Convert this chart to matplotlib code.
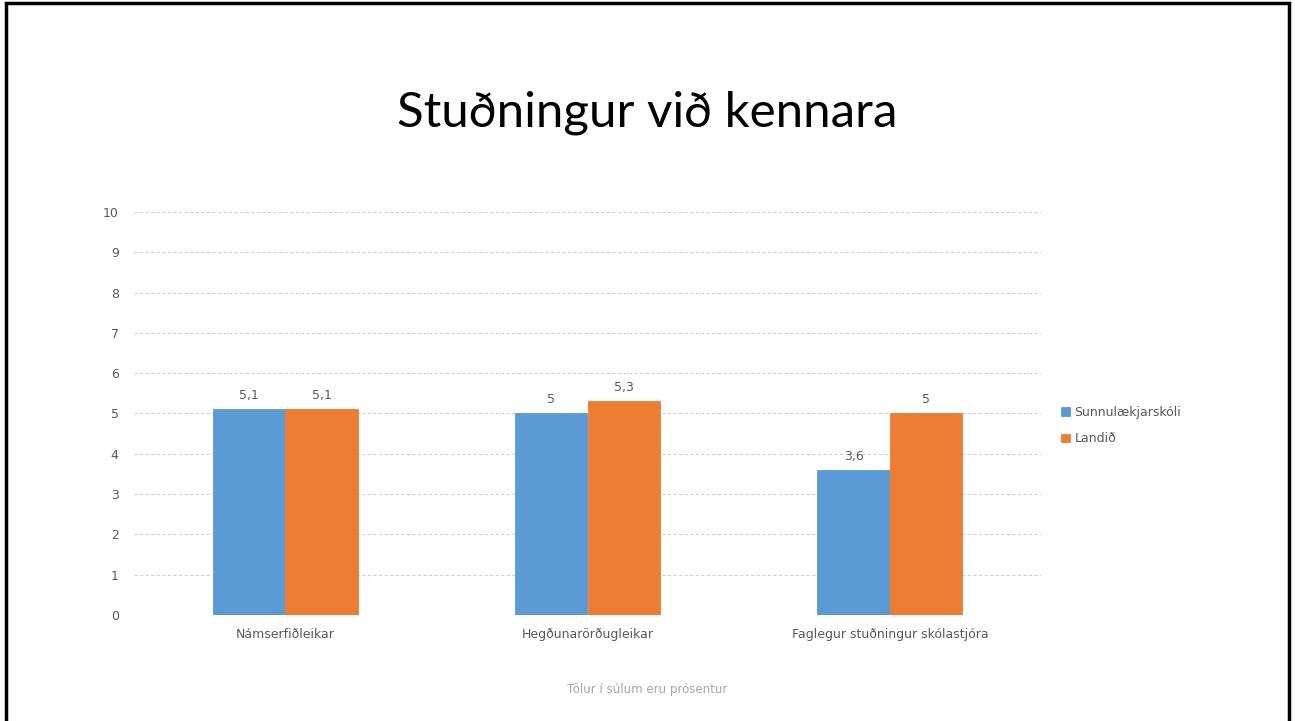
import matplotlib
matplotlib.use("Agg")
import matplotlib.pyplot as plt
from matplotlib.patches import Rectangle
import numpy as np

plt.rcParams['font.family'] = ['DejaVu Sans']

categories = ['Námserfiðleikar', 'Hegðunarörðugleikar', 'Faglegur stuðningur skólastjóra']
series_names = ['Sunnulækjarskóli', 'Landið']
school = [5.1, 5.0, 3.6]
country = [5.1, 5.3, 5.0]
colors = ['#5b9bd5', '#ed7d31']
grey = '#595959'


def fmt(v):
    s = ('%.1f' % v).rstrip('0').rstrip('.')
    return s.replace('.', ',')


fig = plt.figure(figsize=(12.95, 7.21), dpi=100)
ax = fig.add_axes([134 / 1295, 0.147, 907 / 1295, 0.559])

x = np.arange(len(categories))
w = 0.24
for i, (vals, name) in enumerate(zip([school, country], series_names)):
    pos = x + (i - 0.5) * w
    # thin edge in the fill colour so neighbouring bars touch without a gap
    bars = ax.bar(pos, vals, width=w, color=colors[i], edgecolor=colors[i],
                  linewidth=0.6, label=name, zorder=3)
    for b, v in zip(bars, vals):
        ax.text(b.get_x() + b.get_width() / 2, v + 0.18, fmt(v),
                ha='center', va='bottom', fontsize=9, color=grey)

ax.set_xlim(-0.5, len(categories) - 0.5)
ax.set_ylim(0, 10)
ax.set_yticks(range(0, 11))
ax.set_xticks(x)
ax.set_xticklabels(categories)
ax.tick_params(axis='both', length=0, labelsize=9, colors=grey)
ax.tick_params(axis='x', pad=9)
ax.tick_params(axis='y', pad=11)
ax.grid(axis='y', color='#d0d0d0', linestyle=(0, (3, 2)), linewidth=0.8, zorder=0)
for s in ax.spines.values():
    s.set_visible(False)

leg = ax.legend(loc='center left', bbox_to_anchor=(1.01, 0.47), frameon=False,
                fontsize=9, handlelength=0.7, handleheight=0.7,
                handletextpad=0.35, labelspacing=1.1)
for t in leg.get_texts():
    t.set_color(grey)

fig.text(0.5, 0.843, 'Stuðningur við kennara', ha='center', va='center',
         family=['Lato', 'DejaVu Sans'], fontsize=35.5, color='#000000')
fig.text(0.5, 0.043, 'Tölur í súlum eru prósentur', ha='center', va='center',
         fontsize=8.5, color='#a6a6a6')

# frame around the slide
fig.patches.append(Rectangle((6 / 1295, -0.05), 1283 / 1295, 1.05 - 3.5 / 721,
                             transform=fig.transFigure, fill=False,
                             edgecolor='black', linewidth=2.5))

fig.savefig('out.png', dpi=100)
